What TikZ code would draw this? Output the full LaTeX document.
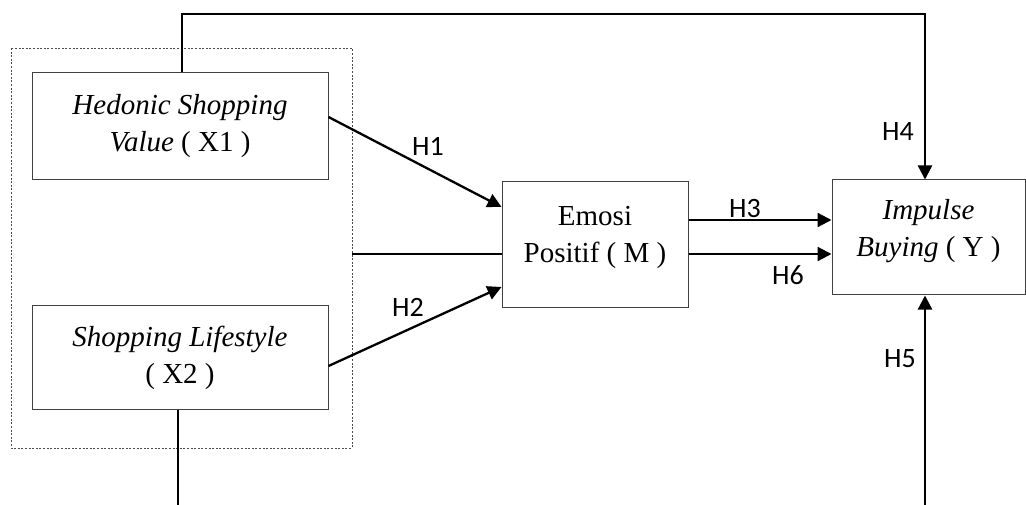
\documentclass[tikz,border=0pt]{standalone}
\usepackage{fontspec}
\setmainfont{Liberation Serif}
\newfontfamily\hfont{Carlito}
\usepackage{tikz}
\usetikzlibrary{arrows.meta, positioning, calc}

\begin{document}
\begin{tikzpicture}[x=1pt, y=-1pt,
  var/.style={draw=black!75, line width=1pt, align=center, inner sep=0pt,
    font=\fontsize{29}{37}\selectfont},
  group/.style={draw=black!70, line width=0.7pt, dash pattern=on 2pt off 1.6pt},
  conn/.style={line width=2.3pt},
  arr/.style={conn, -{Triangle[length=14pt, width=14pt]}},
  hyp/.style={font=\hfont\fontsize{28}{32}\selectfont, inner sep=0pt}]
\useasboundingbox (0,0) rectangle (1026,505);

% variables
\node[var, minimum width=296pt, minimum height=107pt] (x1) at (180,126.5)
  {\textit{Hedonic Shopping}\\\textit{Value} ( X1 )};
\node[var, minimum width=296pt, minimum height=103pt] (x2) at (180,357.5)
  {\textit{Shopping Lifestyle}\\( X2 )};
\node[var, minimum width=186pt, minimum height=125pt] (m) at (595,244.5)
  {Emosi\\Positif ( M )\\[-17pt]{}};
\node[var, minimum width=193pt, minimum height=115pt] (y) at (928.5,237.5)
  {\textit{Impulse}\\\textit{Buying} ( Y )\\[-17pt]{}};
\draw[group] (11,48) rectangle (352,448);
\coordinate (grp) at (352,254);

% paths
\coordinate (tl) at (182,14);
\coordinate (tr) at (925,14);
\coordinate (bl) at (178,505);
\coordinate (br) at (925,505);
\draw[arr] (x1.north -| tl) -- (tl) -- (tr) -- (tr |- y.north);
\draw[conn] (x2.south -| bl) -- (bl);
\draw[arr] (br) -- (br |- y.south);
\draw[arr] ([yshift=9.5pt]x1.east) -- ([yshift=37.5pt]m.west);
\draw[arr] ([yshift=-8.5pt]x2.east) -- ([yshift=-42.5pt]m.west);
\coordinate (mid) at ([yshift=-9.5pt]m.west);
\draw[conn] (grp |- mid) -- (mid);
\coordinate (h3) at ([yshift=24.5pt]m.east);
\coordinate (h6) at ([yshift=-9.5pt]m.east);
\draw[arr] (h3) -- (h3 -| y.west);
\draw[arr] (h6) -- (h6 -| y.west);

% labels
\node[hyp] (l1) at (428,146) {H1};
\node[hyp] (l2) at (408,307) {H2};
\node[hyp] (l3) at (745,209) {H3};
\node[hyp] (l4) at (898,132) {H4};
\node[hyp] (l5) at (900,359) {H5};
\node[hyp] (l6) at (788,275) {H6};
\end{tikzpicture}
\end{document}
